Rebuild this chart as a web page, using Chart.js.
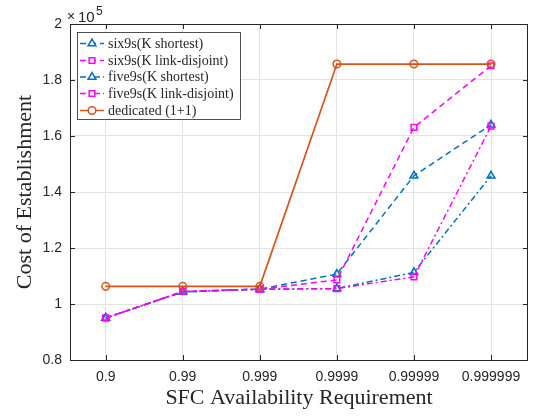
<!DOCTYPE html>
<html>
<head>
<meta charset="utf-8">
<script src="https://cdn.jsdelivr.net/npm/chart.js@4/dist/chart.umd.min.js"></script>
<style>
html,body{margin:0;padding:0;background:#fff;}
#wrap{width:534px;height:420px;position:relative;}
</style>
</head>
<body>
<div id="wrap"><canvas id="c" width="534" height="420"></canvas></div>
<script>
// ---- data (values in units of 10^5) ----
const categories = ['0.9','0.99','0.999','0.9999','0.99999','0.999999'];
const six9sShortest  = [0.950, 1.043, 1.053, 1.107, 1.458, 1.640];
const six9sDisjoint  = [0.950, 1.045, 1.053, 1.086, 1.631, 1.851];
const five9sShortest = [0.950, 1.043, 1.053, 1.055, 1.113, 1.458];
const five9sDisjoint = [0.950, 1.045, 1.053, 1.055, 1.097, 1.635];
const dedicated      = [1.063, 1.063, 1.063, 1.857, 1.857, 1.857];
const yTicks = [0.8, 1, 1.2, 1.4, 1.6, 1.8, 2];
const seriesNames = ['six9s(K shortest)','six9s(K link-disjoint)','five9s(K shortest)','five9s(K link-disjoint)','dedicated (1+1)'];

const BLUE = '#0072BD', MAG = '#FF00FF', ORA = '#D95319', AX = '#262626';
const toPts = arr => arr.map((v, i) => ({x: i + 1, y: v}));

const styles = [
  {color: BLUE, dash: [6, 4], pt: 'triangle', r: 4.5},
  {color: MAG,  dash: [6, 4], pt: 'rect', r: 4},
  {color: BLUE, dash: [6, 3, 2, 3], pt: 'triangle', r: 4.5},
  {color: MAG,  dash: [6, 3, 2, 3], pt: 'rect', r: 4},
  {color: ORA,  dash: [], pt: 'circle', r: 3.8}
];
const seriesData = [six9sShortest, six9sDisjoint, five9sShortest, five9sDisjoint, dedicated];

const datasets = seriesData.map((d, i) => ({
  label: seriesNames[i],
  data: toPts(d),
  borderColor: styles[i].color,
  backgroundColor: 'rgba(0,0,0,0)',
  borderWidth: i === 4 ? 1.7 : 1.5,
  borderDash: styles[i].dash,
  pointStyle: styles[i].pt,
  pointRadius: styles[i].r,
  pointBorderColor: styles[i].color,
  pointBackgroundColor: 'rgba(0,0,0,0)',
  pointBorderWidth: 1.5,
  tension: 0,
  order: 10 - i
}));

const frame = {
  id: 'frame',
  afterDatasetsDraw(chart) {
    const ctx = chart.ctx, a = chart.chartArea;
    const xs = chart.scales.x, ys = chart.scales.y;
    ctx.save();
    ctx.strokeStyle = AX; ctx.lineWidth = 1; ctx.setLineDash([]);
    ctx.strokeRect(Math.round(a.left) + 0.5, Math.round(a.top) + 0.5,
      Math.round(a.right - a.left) - 1, Math.round(a.bottom - a.top));
    const tl = 5;
    ctx.beginPath();
    categories.forEach((c, i) => {
      const x = Math.round(xs.getPixelForValue(i + 1)) + 0.5;
      ctx.moveTo(x, a.bottom); ctx.lineTo(x, a.bottom - tl);
      ctx.moveTo(x, a.top); ctx.lineTo(x, a.top + tl);
    });
    yTicks.forEach(v => {
      const y = Math.round(ys.getPixelForValue(v)) + 0.5;
      ctx.moveTo(a.left, y); ctx.lineTo(a.left + tl, y);
      ctx.moveTo(a.right, y); ctx.lineTo(a.right - tl, y);
    });
    ctx.stroke();

    // x10^5 multiplier
    ctx.fillStyle = AX;
    ctx.textBaseline = 'alphabetic';
    ctx.textAlign = 'left';
    ctx.font = '14px "Liberation Sans", Arial, sans-serif';
    ctx.fillText('\u00d7', 67, 21);
    ctx.font = '15px "Liberation Sans", Arial, sans-serif';
    ctx.fillText('10', 78, 22);
    ctx.font = '12px "Liberation Sans", Arial, sans-serif';
    ctx.fillText('5', 96, 15);

    // legend
    const L = 77, T = 32, R = 240, B = 119;
    ctx.fillStyle = '#fff';
    ctx.fillRect(L, T, R - L, B - T);
    ctx.strokeStyle = AX; ctx.lineWidth = 0.8;
    ctx.strokeRect(L + 0.5, T + 0.5, R - L, B - T);
    const rowY = [43.5, 60.5, 77, 93.5, 110.5];
    chart.data.datasets.forEach((ds, i) => {
      const y = rowY[i];
      ctx.save();
      ctx.strokeStyle = ds.borderColor; ctx.lineWidth = 1.5;
      ctx.setLineDash(ds.borderDash);
      ctx.beginPath(); ctx.moveTo(80, y); ctx.lineTo(104, y); ctx.stroke();
      ctx.setLineDash([]);
      ctx.lineWidth = 1.5;
      ctx.fillStyle = '#fff';
      Chart.helpers.drawPoint(ctx, {pointStyle: ds.pointStyle, radius: ds.pointRadius, rotation: 0, borderWidth: 1.5}, 92, y);
      ctx.restore();
      ctx.fillStyle = AX;
      ctx.font = '14px "Liberation Serif", "Times New Roman", serif';
      ctx.textBaseline = 'middle';
      ctx.textAlign = 'left';
      ctx.fillText(ds.label, 108, y + 0.5);
    });
    ctx.restore();
  }
};

new Chart(document.getElementById('c'), {
  type: 'line',
  data: {datasets},
  options: {
    responsive: false,
    animation: false,
    events: [],
    layout: {padding: {top: 24, right: 2, left: 0, bottom: 0}},
    plugins: {legend: {display: false}, tooltip: {enabled: false}},
    scales: {
      x: {
        type: 'linear',
        min: 0.537, max: 6.48,
        afterBuildTicks: s => { s.ticks = categories.map((c, i) => ({value: i + 1})); },
        afterFit: s => { s.height = 60; },
        ticks: {
          callback: (v) => categories[Math.round(v) - 1],
          font: {family: '"Liberation Sans", Arial, sans-serif', size: 14},
          color: AX, padding: 9, maxRotation: 0, autoSkip: false
        },
        grid: {color: '#e3e3e3', drawTicks: false, lineWidth: 1},
        border: {display: false},
        title: {display: true, text: 'SFC Availability Requirement',
          font: {family: '"Liberation Serif", "Times New Roman", serif', size: 22},
          color: AX, padding: {top: 0, bottom: 9}}
      },
      y: {
        min: 0.8, max: 2,
        afterBuildTicks: s => { s.ticks = yTicks.map(v => ({value: v})); },
        afterFit: s => { s.width = 70; },
        ticks: {
          callback: v => String(Number(v.toFixed(1))),
          font: {family: '"Liberation Sans", Arial, sans-serif', size: 14},
          color: AX, padding: 8
        },
        grid: {color: '#e3e3e3', drawTicks: false, lineWidth: 1},
        border: {display: false},
        title: {display: true, text: 'Cost of Establishment',
          font: {family: '"Liberation Serif", "Times New Roman", serif', size: 22},
          color: AX, padding: {top: 12, bottom: 0}}
      }
    }
  },
  plugins: [frame]
});
</script>
</body>
</html>
